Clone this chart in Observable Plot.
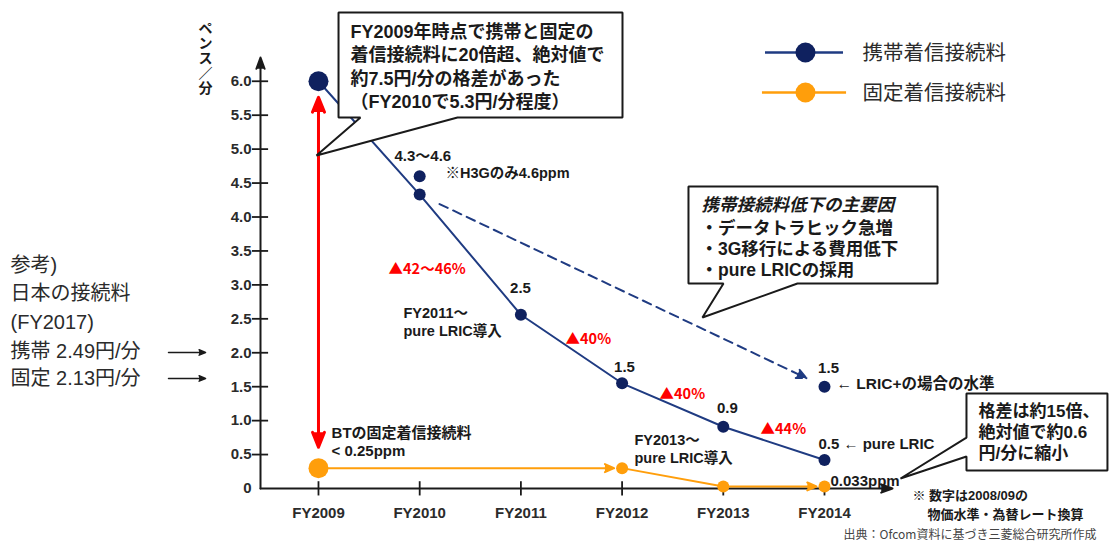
<!DOCTYPE html>
<html lang="ja">
<head>
<meta charset="utf-8">
<script src="https://cdn.jsdelivr.net/npm/d3@7"></script>
<script src="https://cdn.jsdelivr.net/npm/@observablehq/plot@0.6"></script>
<style>
html,body{margin:0;padding:0;background:#fff;}
#chart svg{display:block;}
</style>
</head>
<body>
<div id="chart"></div>
<script>
// ---------------- data ----------------
const years = [2009, 2010, 2011, 2012, 2013, 2014];
const yearLabels = ["FY2009", "FY2010", "FY2011", "FY2012", "FY2013", "FY2014"];
const mobileRates = [6.0, 4.33, 2.56, 1.55, 0.91, 0.42];      // 携帯着信接続料 (pence/min)
const h3gYear = 2010, h3gRate = 4.6;                           // ※H3Gのみ
const lricPlusYear = 2014, lricPlusRate = 1.5;                 // LRIC+の場合
const fixedYears = [2009, 2012, 2013, 2014];
const fixedRates = [0.3, 0.3, 0.03, 0.03];                     // 固定着信接続料
const yTicks = [0, 0.5, 1, 1.5, 2, 2.5, 3, 3.5, 4, 4.5, 5, 5.5, 6];
const yTickLabels = ["0", "0.5", "1.0", "1.5", "2.0", "2.5", "3.0", "3.5", "4.0", "4.5", "5.0", "5.5", "6.0"];
const seriesNames = ["携帯着信接続料", "固定着信接続料"];
const valueLabels = ["4.3～4.6", "2.5", "1.5", "0.9", "1.5", "0.5 ← pure LRIC", "0.033ppm"];
const declineLabels = ["▲42～46%", "▲40%", "▲40%", "▲44%"];
const japanRefLines = ["参考)", "日本の接続料", "(FY2017)", "携帯 2.49円/分", "固定 2.13円/分"];

// ---------------- layout (data units) ----------------
const X0 = 2008.427, X1 = 2014.672, YTOP = 6.35;
const C = {navy: "#0f215f", navyLine: "#1f3b82", orange: "#ff9e0b", red: "#ff0000", ink: "#1a1a1a", gray: "#2b2b2b"};
const SANS = "'Liberation Sans', Arial, 'Noto Sans CJK JP', sans-serif";
const JP = "'Noto Sans CJK JP', 'Liberation Sans', sans-serif";

const mobile = years.map((year, i) => ({year, rate: mobileRates[i]}));
const fixed = fixedYears.map((year, i) => ({year, rate: fixedRates[i]}));

const callouts = [
  {id: "gap2009", pts: [[2009.198, 7.013], [2012.004, 7.013], [2012.004, 5.466], [2010.374, 5.466], [2008.980, 4.906], [2009.415, 5.466], [2009.198, 5.466]]},
  {id: "factors", pts: [[2012.656, 4.450], [2015.117, 4.450], [2015.117, 3.020], [2013.733, 3.020], [2012.794, 2.520], [2013.002, 3.020], [2012.656, 3.020]]},
  {id: "gap2014", pts: [[2015.403, 1.400], [2016.796, 1.400], [2016.796, 0.265], [2015.403, 0.265], [2015.403, 0.471], [2014.751, 0.147], [2015.403, 0.751]]}
];
const calloutPts = callouts.flatMap(c => c.pts.map(([x, y]) => ({id: c.id, x, y})));

function label(text, x, y, o = {}) {
  return Plot.text([text], {
    x, y, text: d => d,
    textAnchor: o.anchor ?? "start",
    fontSize: o.size ?? 15,
    fontWeight: o.weight ?? "bold",
    fill: o.color ?? C.ink,
    fontFamily: o.family ?? SANS,
    lineHeight: o.lh ?? 1.2,
    fontStyle: o.style,
    ariaLabel: o.aria
  });
}

const refY = [3.286, 2.873, 2.446, 2.019, 1.621];

const plot = Plot.plot({
  width: 1113,
  height: 543,
  marginLeft: 260,
  marginRight: 221,
  marginTop: 57,
  marginBottom: 55,
  x: {domain: [X0, X1]},
  y: {domain: [0, YTOP]},
  style: {fontFamily: SANS, background: "white", overflow: "visible"},
  marks: [
    // axes
    Plot.arrow([0], {x1: X0, y1: 0, x2: X0, y2: YTOP, stroke: C.ink, strokeWidth: 2, headLength: 9, headAngle: 40}),
    Plot.arrow([0], {x1: X0, y1: 0, x2: X1, y2: 0, stroke: C.ink, strokeWidth: 2, headLength: 9, headAngle: 40}),
    Plot.ruleY(yTicks.filter(d => d > 0), {y: d => d, x1: X0 - 0.08, x2: X0 + 0.08, stroke: C.ink, strokeWidth: 1.8}),
    Plot.ruleX(years, {x: d => d, y1: -0.11, y2: 0.1, stroke: C.ink, strokeWidth: 1.8}),
    Plot.axisY({ticks: yTicks, tickSize: 0, tickPadding: 9, tickFormat: d => yTickLabels[yTicks.indexOf(d)], fontSize: 15, fontWeight: "bold", color: C.gray, label: null}),
    Plot.axisX({ticks: years, tickSize: 0, tickPadding: 19, tickFormat: d => yearLabels[years.indexOf(d)], fontSize: 15, fontWeight: "bold", color: C.gray, label: null}),
    label("ペ\nン\nス\n／\n分", 2007.884, 6.336, {anchor: "middle", size: 14, lh: 1.07}),

    // mobile series
    Plot.line(mobile, {x: "year", y: "rate", stroke: C.navyLine, strokeWidth: 2}),
    Plot.arrow([0], {x1: h3gYear, y1: mobileRates[1], x2: lricPlusYear, y2: lricPlusRate, stroke: C.navyLine, strokeWidth: 2, strokeDasharray: "9,6", headLength: 8, headAngle: 50, insetStart: 22, insetEnd: 20}),

    // fixed series
    Plot.line(fixed.slice(1, 3), {x: "year", y: "rate", stroke: C.orange, strokeWidth: 2}),
    Plot.arrow([[fixed[0], fixed[1]], [fixed[2], fixed[3]]], {
      x1: d => d[0].year, y1: d => d[0].rate, x2: d => d[1].year, y2: d => d[1].rate,
      stroke: C.orange, strokeWidth: 2, headLength: 7.5, headAngle: 47, insetEnd: 8
    }),

    // red gap arrow (FY2009)
    Plot.arrow([0], {x1: years[0], y1: (mobileRates[0] + fixedRates[0]) / 2, x2: years[0], y2: mobileRates[0], stroke: C.red, strokeWidth: 3, headLength: 8, headAngle: 44, insetEnd: 16}),
    Plot.arrow([0], {x1: years[0], y1: (mobileRates[0] + fixedRates[0]) / 2, x2: years[0], y2: fixedRates[0], stroke: C.red, strokeWidth: 3, headLength: 8, headAngle: 44, insetEnd: 21}),

    // dots
    Plot.dot(mobile.slice(0, 1), {x: "year", y: "rate", r: 10, fill: C.navy}),
    Plot.dot(mobile.slice(1), {x: "year", y: "rate", r: 6, fill: C.navy}),
    Plot.dot([0], {x: h3gYear, y: h3gRate, r: 6, fill: C.navy}),
    Plot.dot([0], {x: lricPlusYear, y: lricPlusRate, r: 6, fill: C.navy}),
    Plot.dot(fixed.slice(0, 1), {x: "year", y: "rate", r: 10, fill: C.orange}),
    Plot.dot(fixed.slice(1), {x: "year", y: "rate", r: 6, fill: C.orange}),

    // callout boxes
    Plot.line(calloutPts, {x: "x", y: "y", z: "id", curve: "linear-closed", fill: "white", stroke: C.ink, strokeWidth: 2, strokeLinejoin: "miter"}),
    label("FY2009年時点で携帯と固定の\n着信接続料に20倍超、絶対値で\n約7.5円/分の格差があった\n（FY2010で5.3円/分程度）", 2009.316, 6.232, {size: 18, lh: 1.3}),
    label("携帯接続料低下の主要因", 2012.785, 4.184, {size: 17.5, style: "italic", aria: "factor-title"}),
    label("・データトラヒック急増\n・3G移行による費用低下\n・pure LRICの採用", 2012.775, 3.536, {size: 17.5, lh: 1.2}),
    label("格差は約15倍、\n絶対値で約0.6\n円/分に縮小", 2015.522, 0.840, {size: 17, lh: 1.24}),

    // legend
    Plot.ruleY([0], {y: 6.424, x1: 2013.417, x2: 2014.188, stroke: C.navyLine, strokeWidth: 2.5}),
    Plot.dot([0], {x: 2013.812, y: 6.424, r: 10, fill: C.navy}),
    Plot.ruleY([0], {y: 5.835, x1: 2013.387, x2: 2014.218, stroke: C.orange, strokeWidth: 2.5}),
    Plot.dot([0], {x: 2013.812, y: 5.835, r: 10, fill: C.orange}),
    label(seriesNames[0], 2014.375, 6.424, {size: 20.5, weight: "normal", family: JP, color: C.gray}),
    label(seriesNames[1], 2014.375, 5.835, {size: 20.5, weight: "normal", family: JP, color: C.gray}),

    // value labels
    label(valueLabels[0], 2009.751, 4.906),
    label("※H3Gのみ4.6ppm", 2010.255, 4.656, {size: 14.5}),
    label(valueLabels[1], 2010.996, 2.962, {anchor: "middle"}),
    label(valueLabels[2], 2012.024, 1.798, {anchor: "middle"}),
    label(valueLabels[3], 2013.041, 1.193, {anchor: "middle"}),
    label(valueLabels[4], 2014.040, 1.783, {anchor: "middle"}),
    label("← LRIC+の場合の水準", 2014.119, 1.547, {size: 15.5}),
    label(valueLabels[5], 2013.941, 0.663),
    label(valueLabels[6], 2014.059, 0.118),
    label("FY2011～\npure LRIC導入", 2009.840, 2.461, {size: 14.5, lh: 1.25}),
    label("FY2013～\npure LRIC導入", 2012.122, 0.597, {size: 14.5, lh: 1.25}),
    label("BTの固定着信接続料\n< 0.25ppm", 2009.129, 0.692, {size: 15, lh: 1.2}),

    // decline labels
    label(declineLabels[0], 2009.692, 3.241, {color: C.red, family: JP, size: 14.5}),
    label(declineLabels[1], 2011.441, 2.210, {color: C.red, family: JP, size: 14.5}),
    label(declineLabels[2], 2012.370, 1.400, {color: C.red, family: JP, size: 14.5}),
    label(declineLabels[3], 2013.368, 0.884, {color: C.red, family: JP, size: 14.5}),

    // Japan reference (left)
    Plot.text(japanRefLines, {x: 2005.957, y: (d, i) => refY[i], text: d => d, textAnchor: "start", fontSize: 20, fontFamily: SANS, fill: C.gray}),
    Plot.arrow([2.004, 1.621], {x1: 2007.518, x2: 2007.884, y1: d => d, y2: d => d, stroke: C.ink, strokeWidth: 1.5, headLength: 7, headAngle: 45}),

    // notes
    label("※ 数字は2008/09の", 2014.869, -0.103, {size: 13}),
    label("物価水準・為替レート換算", 2015.017, -0.383, {size: 13}),
    label("出典：Ofcom資料に基づき三菱総合研究所作成", 2014.188, -0.678, {size: 12, weight: "normal", family: JP, color: "#444"})
  ]
});

// filled triangular arrowheads
plot.querySelectorAll('g[aria-label="arrow"]').forEach(g => {
  g.setAttribute("fill", g.getAttribute("stroke"));
});
const ft = plot.querySelector('g[aria-label="factor-title"] text');
if (ft) ft.style.textDecoration = "underline";

document.getElementById("chart").append(plot);
</script>
</body>
</html>
